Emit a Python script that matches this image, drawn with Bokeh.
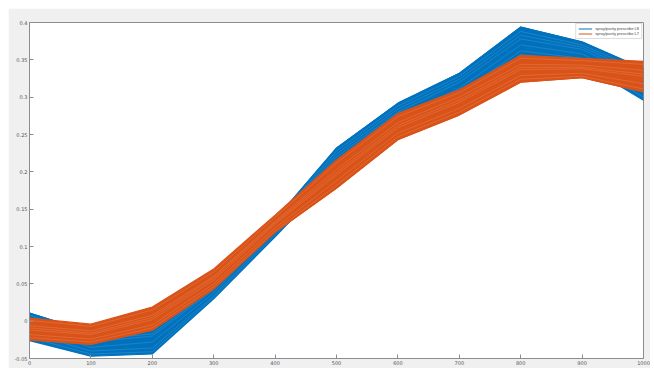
from bokeh.plotting import figure
from bokeh.models import FixedTicker, Legend, LegendItem, Range1d, Spacer
from bokeh.layouts import column, row
from bokeh.embed import file_html
from bokeh.resources import INLINE

x = [0, 100, 200, 300, 400, 500, 600, 700, 800, 900, 1000]

blue_upper = [0.011, -0.015, -0.008, 0.050, 0.136, 0.232, 0.292, 0.332, 0.394, 0.374, 0.338]
blue_lower = [-0.026, -0.047, -0.044, 0.030, 0.113, 0.198, 0.258, 0.298, 0.354, 0.345, 0.296]
orange_upper = [0.004, -0.004, 0.019, 0.070, 0.142, 0.216, 0.278, 0.310, 0.356, 0.352, 0.348]
orange_lower = [-0.025, -0.031, -0.012, 0.043, 0.119, 0.178, 0.243, 0.276, 0.320, 0.326, 0.307]

blue_lines = [
    [0.008, -0.020, -0.012, 0.047, 0.134, 0.228, 0.288, 0.328, 0.388, 0.370, 0.334],
    [0.003, -0.025, -0.017, 0.044, 0.132, 0.224, 0.284, 0.324, 0.383, 0.367, 0.330],
    [0.000, -0.028, -0.020, 0.042, 0.130, 0.220, 0.280, 0.320, 0.378, 0.364, 0.325],
    [-0.008, -0.035, -0.028, 0.038, 0.125, 0.212, 0.272, 0.312, 0.370, 0.358, 0.316],
    [-0.016, -0.040, -0.036, 0.034, 0.120, 0.205, 0.266, 0.305, 0.362, 0.352, 0.306],
    [-0.022, -0.044, -0.041, 0.032, 0.116, 0.200, 0.261, 0.300, 0.357, 0.348, 0.300],
]
orange_lines = [
    [0.001, -0.007, 0.015, 0.066, 0.139, 0.212, 0.274, 0.306, 0.352, 0.349, 0.344],
    [-0.006, -0.013, 0.008, 0.060, 0.134, 0.203, 0.266, 0.300, 0.344, 0.343, 0.336],
    [-0.009, -0.016, 0.005, 0.058, 0.132, 0.199, 0.262, 0.296, 0.340, 0.340, 0.331],
    [-0.012, -0.018, 0.002, 0.055, 0.130, 0.196, 0.259, 0.293, 0.337, 0.338, 0.328],
    [-0.018, -0.024, -0.005, 0.050, 0.125, 0.188, 0.252, 0.285, 0.329, 0.332, 0.318],
    [-0.022, -0.028, -0.009, 0.046, 0.121, 0.182, 0.247, 0.280, 0.324, 0.328, 0.311],
]

y_ticks = [-0.05, 0, 0.05, 0.1, 0.15, 0.2, 0.25, 0.3, 0.35, 0.4]
y_tick_labels = ["-0.05", "0", "0.05", "0.1", "0.15", "0.2", "0.25", "0.3", "0.35", "0.4"]
x_ticks = [0, 100, 200, 300, 400, 500, 600, 700, 800, 900, 1000]
labels = ["spray/parity prescribe L8", "spray/parity prescribe L7"]

BLUE = "#0072BD"
ORANGE = "#D95319"

p = figure(width=642, height=360, output_backend="svg", toolbar_location=None,
           x_range=Range1d(0, 1000), y_range=Range1d(-0.05, 0.4),
           min_border_left=21, min_border_top=14, min_border_right=7, min_border_bottom=10)
p.background_fill_color = "white"
p.border_fill_color = "#f0f0f0"
p.outline_line_color = "#8c8c8c"
p.xgrid.visible = False
p.ygrid.visible = False

for ax in (p.xaxis[0], p.yaxis[0]):
    ax.major_tick_in = 4
    ax.major_tick_out = 0
    ax.minor_tick_in = 0
    ax.minor_tick_out = 0
    ax.axis_line_color = "#8c8c8c"
    ax.major_tick_line_color = "#8c8c8c"
    ax.major_label_text_font_size = "5px"
    ax.major_label_text_color = "#555555"
    ax.major_label_standoff = 2
    ax.major_label_text_font = "DejaVu Sans"

p.xaxis[0].ticker = FixedTicker(ticks=x_ticks)
p.yaxis[0].ticker = FixedTicker(ticks=y_ticks)
p.yaxis[0].major_label_overrides = {t: l for t, l in zip(y_ticks, y_tick_labels)}

# blue series
p.varea(x=x, y1=blue_lower, y2=blue_upper, fill_color=BLUE, fill_alpha=1.0)
p.line(x, blue_upper, line_color=BLUE, line_width=1.2)
p.line(x, blue_lower, line_color=BLUE, line_width=1.2)
for ys in blue_lines:
    p.line(x, ys, line_color="#5aa6dd", line_width=0.6, line_alpha=0.55)
bl = p.line(x, blue_upper, line_color=BLUE, line_width=1.0)

# orange series
p.varea(x=x, y1=orange_lower, y2=orange_upper, fill_color=ORANGE, fill_alpha=1.0)
p.line(x, orange_upper, line_color=ORANGE, line_width=1.2)
p.line(x, orange_lower, line_color=ORANGE, line_width=1.2)
for ys in orange_lines:
    p.line(x, ys, line_color="#f09a70", line_width=0.6, line_alpha=0.5)
ol = p.line(x, orange_lower, line_color=ORANGE, line_width=1.0)

legend = Legend(items=[LegendItem(label=labels[0], renderers=[bl]),
                       LegendItem(label=labels[1], renderers=[ol])],
                location="top_right")
legend.label_text_font_size = "4px"
legend.label_text_color = "#444444"
legend.glyph_width = 14
legend.glyph_height = 5
legend.label_height = 5
legend.spacing = 0
legend.padding = 2
legend.margin = 1
legend.label_standoff = 3
legend.border_line_color = "#bbbbbb"
legend.background_fill_color = "white"
p.add_layout(legend)

layout = column(Spacer(height=8), row(Spacer(width=8), p))
open("out.html", "w").write(file_html(layout, INLINE))
